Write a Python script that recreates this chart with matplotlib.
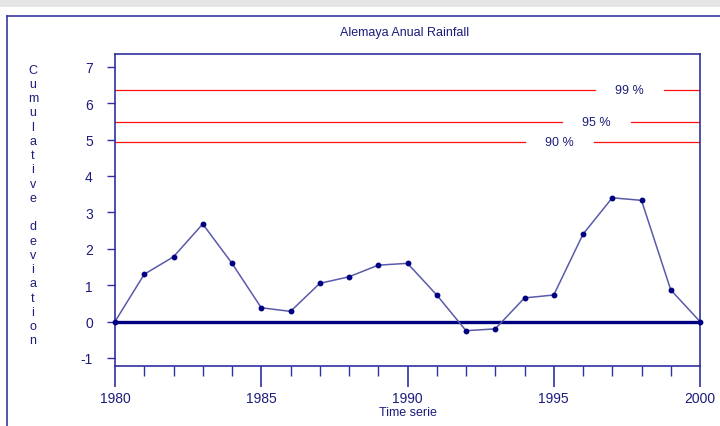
import matplotlib
matplotlib.use("Agg")
import matplotlib.pyplot as plt
from matplotlib.lines import Line2D
from matplotlib.patches import Rectangle

years = list(range(1980, 2001))
cum_dev = [0.0, 1.30, 1.78, 2.68, 1.60, 0.38, 0.28, 1.05, 1.23, 1.55, 1.60,
           0.73, -0.25, -0.20, 0.65, 0.73, 2.40, 3.40, 3.33, 0.87, 0.0]
thr_labels = ["99 %", "95 %", "90 %"]
thr_values = [6.35, 5.47, 4.92]
thr_label_x = [1997.6, 1996.45, 1995.2]
title = "Alemaya Anual Rainfall"
xlabel = "Time serie"
ylabel = "Cumulative deviation"
yticks = [-1, 0, 1, 2, 3, 4, 5, 6, 7]
xticks = [1980, 1985, 1990, 1995, 2000]

NAVY = "#000080"
TXT = "#1c1c7c"
LINE = "#5a5aaa"
FONT = ["Liberation Sans", "DejaVu Sans"]

fig = plt.figure(figsize=(7.2, 4.27), dpi=100)
fig.patch.set_facecolor("white")
# window decorations
fig.add_artist(Rectangle((0, 1 - 8 / 427), 1, 8 / 427, transform=fig.transFigure,
                         facecolor="#e6e6e6", edgecolor="none"))
fig.add_artist(Line2D([7 / 720, 7 / 720], [0, 1 - 17 / 427], transform=fig.transFigure,
                      color="#3838a0", lw=1.2))
fig.add_artist(Line2D([7 / 720, 1], [1 - 17 / 427, 1 - 17 / 427], transform=fig.transFigure,
                      color="#3838a0", lw=1.2))

ax = fig.add_axes([115 / 720, 60 / 427, 585 / 720, 312 / 427])
ax.set_xlim(1980, 2000)
ax.set_ylim(-1.22, 7.35)

for s in ax.spines.values():
    s.set_color("#3030a0")
    s.set_linewidth(1.2)

# threshold lines with gaps for labels
gap = 2.36
for lab, v, lx in zip(thr_labels, thr_values, thr_label_x):
    ax.plot([1980, lx - gap / 2], [v, v], color="#ff1010", lw=0.9)
    ax.plot([lx + gap / 2, 2000], [v, v], color="#ff1010", lw=0.9)
    ax.text(lx, v, lab, ha="center", va="center", color=TXT, fontsize=9, family=FONT)

ax.axhline(0, color=NAVY, lw=2.4, zorder=3)
ax.plot(years, cum_dev, color=LINE, lw=1.1, zorder=4)
ax.plot(years, cum_dev, ls="none", marker="o", ms=3.2, color=NAVY, zorder=5, clip_on=False)

ax.set_yticks(yticks)
ax.set_yticklabels([str(t) for t in yticks], family=FONT, fontsize=10, color=TXT)
ax.set_xticks(xticks)
ax.set_xticklabels([str(t) for t in xticks], family=FONT, fontsize=10, color=TXT)
ax.set_xticks(years, minor=True)
ax.tick_params(axis="y", direction="out", length=6, width=1, color="#3030a0", pad=10)
ax.tick_params(axis="x", which="major", direction="out", length=15, width=1.2,
               color="#3030a0", pad=3)
ax.tick_params(axis="x", which="minor", direction="out", length=7, width=1, color="#3030a0")

ax.set_xlabel(xlabel, family=FONT, fontsize=9, color=TXT, labelpad=1)
fig.text(405 / 720, 1 - 33 / 427, title, ha="center", va="center",
         family=FONT, fontsize=9, color=TXT)
fig.text(33 / 720, 1 - 206 / 427, "\n".join(ylabel), ha="center", va="center",
         family=FONT, fontsize=9, color=TXT, linespacing=1.25)

fig.savefig("out.png", dpi=100)
